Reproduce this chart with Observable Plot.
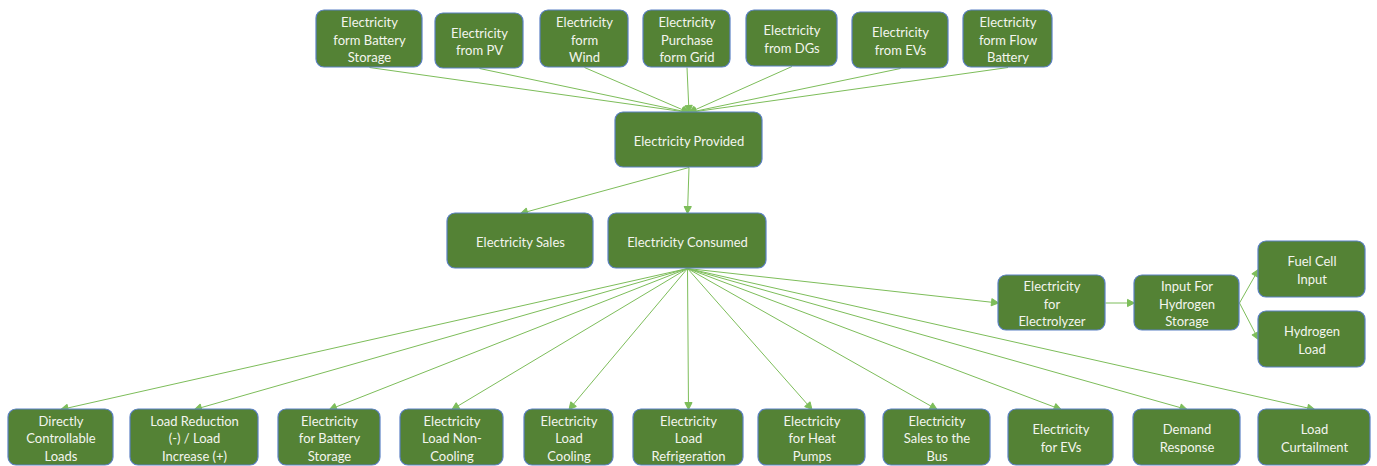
<!DOCTYPE html>
<html>
<head>
<meta charset="utf-8">
<script src="https://cdn.jsdelivr.net/npm/d3@7"></script>
<script src="https://cdn.jsdelivr.net/npm/@observablehq/plot@0.6"></script>
<style>
  html, body { margin: 0; padding: 0; background: #ffffff; }
  #chart svg { display: block; }
</style>
</head>
<body>
<div id="chart"></div>
<script>
// ---- Node labels (by group) ----
const topLabels = [
  "Electricity\nform Battery\nStorage",
  "Electricity\nfrom PV",
  "Electricity\nform\nWind",
  "Electricity\nPurchase\nform Grid",
  "Electricity\nfrom DGs",
  "Electricity\nfrom EVs",
  "Electricity\nform Flow\nBattery"
];
const hubLabels = ["Electricity Provided", "Electricity Sales", "Electricity Consumed"];
const bottomLabels = [
  "Directly\nControllable\nLoads",
  "Load Reduction\n(-) / Load\nIncrease (+)",
  "Electricity\nfor Battery\nStorage",
  "Electricity\nLoad Non-\nCooling",
  "Electricity\nLoad\nCooling",
  "Electricity\nLoad\nRefrigeration",
  "Electricity\nfor Heat\nPumps",
  "Electricity\nSales to the\nBus",
  "Electricity\nfor EVs",
  "Demand\nResponse",
  "Load\nCurtailment"
];
const hydrogenLabels = [
  "Electricity\nfor\nElectrolyzer",
  "Input For\nHydrogen\nStorage",
  "Fuel Cell\nInput",
  "Hydrogen\nLoad"
];

// ---- Layout (box extents in diagram units) ----
const topX1 = [316, 435, 540, 643, 746, 852, 963];
const topX2 = [422, 523, 628, 730, 837, 948, 1052];
const topY1 = [10, 13, 10, 10, 10, 12, 10];
const topY2 = [67, 68, 67, 67, 66, 68, 67];

const hubX1 = [615, 447, 608];
const hubX2 = [762, 593, 766];
const hubY1 = [112, 213, 213];
const hubY2 = [167, 268, 268];

const bottomX1 = [8, 130, 278, 400, 524, 633, 758, 883, 1008, 1133, 1258];
const bottomX2 = [113, 258, 380, 503, 613, 743, 865, 990, 1113, 1240, 1370];
const bottomY1 = 409, bottomY2 = 465;

const hydX1 = [998, 1134, 1258, 1258];
const hydX2 = [1105, 1239, 1365, 1365];
const hydY1 = [275, 275, 241, 311];
const hydY2 = [330, 330, 297, 367];

// ---- Build node table ----
const nodes = [];
topLabels.forEach((l, i) => nodes.push({label: l, x1: topX1[i], x2: topX2[i], y1: topY1[i], y2: topY2[i]}));
hubLabels.forEach((l, i) => nodes.push({label: l, x1: hubX1[i], x2: hubX2[i], y1: hubY1[i], y2: hubY2[i]}));
bottomLabels.forEach((l, i) => nodes.push({label: l, x1: bottomX1[i], x2: bottomX2[i], y1: bottomY1, y2: bottomY2}));
hydrogenLabels.forEach((l, i) => nodes.push({label: l, x1: hydX1[i], x2: hydX2[i], y1: hydY1[i], y2: hydY2[i]}));
const byLabel = new Map(nodes.map(n => [n.label, n]));

// ---- Edges: [from, to, fromPort, toPort] ----
const edges = [];
topLabels.forEach(l => edges.push([l, hubLabels[0], "bottom", "top"]));
edges.push([hubLabels[0], hubLabels[1], "bottom", "top"]);
edges.push([hubLabels[0], hubLabels[2], "bottom", "top"]);
bottomLabels.forEach(l => edges.push([hubLabels[2], l, "bottom", "top"]));
edges.push([hubLabels[2], hydrogenLabels[0], "bottom", "left"]);
edges.push([hydrogenLabels[0], hydrogenLabels[1], "right", "left"]);
edges.push([hydrogenLabels[1], hydrogenLabels[2], "right", "left"]);
edges.push([hydrogenLabels[1], hydrogenLabels[3], "right", "left"]);

function port(n, side) {
  const cx = (n.x1 + n.x2) / 2, cy = (n.y1 + n.y2) / 2;
  if (side === "top") return [cx, n.y1];
  if (side === "bottom") return [cx, n.y2];
  if (side === "left") return [n.x1, cy];
  return [n.x2, cy];
}
const links = edges.map(([a, b, pa, pb]) => {
  const [sx, sy] = port(byLabel.get(a), pa);
  const [tx, ty] = port(byLabel.get(b), pb);
  return {sx, sy, tx, ty};
});

const lineColor = "#7dbd5a";
function filledArrow(color) {
  return d3.create("svg:marker")
    .attr("viewBox", "-8 -5 10 10")
    .attr("markerWidth", 10)
    .attr("markerHeight", 10)
    .attr("markerUnits", "userSpaceOnUse")
    .attr("orient", "auto")
    .attr("fill", color)
    .call(m => m.append("path").attr("d", "M-7,-3.6L0,0L-7,3.6Z"))
    .node();
}

const W = 1377, H = 466;
const chart = Plot.plot({
  width: W,
  height: H,
  margin: 0,
  x: {domain: [0, W], range: [0, W], axis: null},
  y: {domain: [0, H], range: [0, H], axis: null},
  style: {background: "#ffffff"},
  marks: [
    Plot.link(links, {
      x1: "sx", y1: "sy", x2: "tx", y2: "ty",
      stroke: lineColor, strokeWidth: 1,
      markerEnd: filledArrow
    }),
    Plot.rect(nodes, {
      x1: "x1", x2: "x2", y1: "y1", y2: "y2",
      fill: "#548235", stroke: "#5b80c4", strokeWidth: 1.2, rx: 8
    }),
    Plot.text(nodes, {
      x: d => (d.x1 + d.x2) / 2,
      y: d => (d.y1 + d.y2) / 2,
      text: "label",
      fill: "#f3f5ee",
      fontSize: 13,
      lineHeight: 1.35,
      fontFamily: "Lato, 'Open Sans', sans-serif"
    })
  ]
});
document.getElementById("chart").appendChild(chart);
</script>
</body>
</html>
